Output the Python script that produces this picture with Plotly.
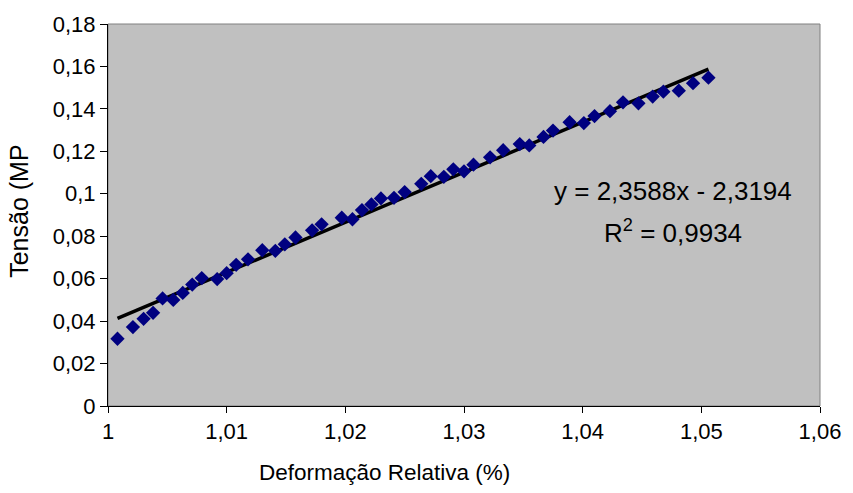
import plotly.graph_objects as go

# Data
deformacao = [1.0008, 1.0021, 1.0030, 1.0038, 1.0046, 1.0055, 1.0063, 1.0071, 1.0079,
              1.0092, 1.0100, 1.0108, 1.0118, 1.0130, 1.0141, 1.0149, 1.0158, 1.0172,
              1.0180, 1.0197, 1.0206, 1.0214, 1.0222, 1.0230, 1.0241, 1.0250, 1.0264,
              1.0272, 1.0283, 1.0291, 1.0300, 1.0308, 1.0322, 1.0333, 1.0347, 1.0355,
              1.0367, 1.0375, 1.0389, 1.0401, 1.0410, 1.0423, 1.0434, 1.0447, 1.0459,
              1.0468, 1.0481, 1.0493, 1.0506]
tensao = [0.0317, 0.0372, 0.0411, 0.0439, 0.0507, 0.0500, 0.0533, 0.0572, 0.0603,
          0.0598, 0.0626, 0.0665, 0.0691, 0.0734, 0.0731, 0.0762, 0.0794, 0.0828,
          0.0856, 0.0887, 0.0880, 0.0923, 0.0950, 0.0978, 0.0981, 0.1008, 0.1047,
          0.1083, 0.1080, 0.1115, 0.1106, 0.1137, 0.1172, 0.1205, 0.1234, 0.1228,
          0.1268, 0.1298, 0.1337, 0.1333, 0.1366, 0.1389, 0.1431, 0.1426, 0.1458,
          0.1481, 0.1486, 0.1521, 0.1547]

# Trendline as printed on the chart
slope = 2.3588
intercept = -2.3194
eq_text = "y = 2,3588x - 2,3194"
r2_text = "R<sup>2</sup> = 0,9934"
x_title = "Deformação Relativa (%)"
y_title = "Tensão (MP"

x_ticks = [1.00, 1.01, 1.02, 1.03, 1.04, 1.05, 1.06]
x_ticklabels = ["1", "1,01", "1,02", "1,03", "1,04", "1,05", "1,06"]
y_ticks = [0, 0.02, 0.04, 0.06, 0.08, 0.10, 0.12, 0.14, 0.16, 0.18]
y_ticklabels = ["0", "0,02", "0,04", "0,06", "0,08", "0,1", "0,12", "0,14", "0,16", "0,18"]

trend_x = [min(deformacao), max(deformacao)]
trend_y = [slope * v + intercept for v in trend_x]

FONT = "Liberation Sans, Arial, sans-serif"

fig = go.Figure()
fig.add_trace(go.Scatter(
    x=trend_x, y=trend_y, mode="lines",
    line=dict(color="black", width=3.5), hoverinfo="skip"))
fig.add_trace(go.Scatter(
    x=deformacao, y=tensao, mode="markers",
    marker=dict(symbol="diamond", color="#000080", size=11, line=dict(width=0))))

fig.add_annotation(x=1.0476, y=0.1013, xref="x", yref="y", text=eq_text,
                   showarrow=False, font=dict(family=FONT, size=26, color="black"),
                   xanchor="center", yanchor="middle")
fig.add_annotation(x=1.0476, y=0.0822, xref="x", yref="y", text=r2_text,
                   showarrow=False, font=dict(family=FONT, size=26, color="black"),
                   xanchor="center", yanchor="middle")
# Axis titles (placed like the original, x title left of centre)
fig.add_annotation(x=0.3886, y=-0.1745, xref="paper", yref="paper", text=x_title,
                   showarrow=False, font=dict(family=FONT, size=22.5, color="black"),
                   xanchor="center", yanchor="middle")
fig.add_annotation(x=-0.1253, y=0.5104, xref="paper", yref="paper", text=y_title,
                   textangle=-90, showarrow=False,
                   font=dict(family=FONT, size=25, color="black"),
                   xanchor="center", yanchor="middle")

fig.update_layout(
    width=853, height=493,
    margin=dict(l=108, r=22, t=22, b=87),
    paper_bgcolor="white", plot_bgcolor="#C0C0C0",
    showlegend=False,
    font=dict(family=FONT, size=22, color="black"),
    shapes=[dict(type="rect", xref="paper", yref="paper", x0=0, x1=1, y0=0, y1=1,
                 line=dict(color="#808080", width=1), layer="below")],
)
fig.update_xaxes(
    range=[1.0, 1.06], tickvals=x_ticks, ticktext=x_ticklabels,
    showgrid=False, zeroline=False, showline=True, linecolor="black", linewidth=1,
    ticks="outside", ticklen=6, tickcolor="black",
    tickfont=dict(family=FONT, size=22))
fig.update_yaxes(
    range=[0, 0.18], tickvals=y_ticks, ticktext=y_ticklabels,
    showgrid=False, zeroline=False, showline=True, linecolor="black", linewidth=1,
    ticks="outside", ticklen=7, tickcolor="black",
    tickfont=dict(family=FONT, size=22))

fig.write_html(
    "out.html",
    config={"displayModeBar": False},
    post_script="document.body.style.margin='0';document.body.style.overflow='hidden';",
)
